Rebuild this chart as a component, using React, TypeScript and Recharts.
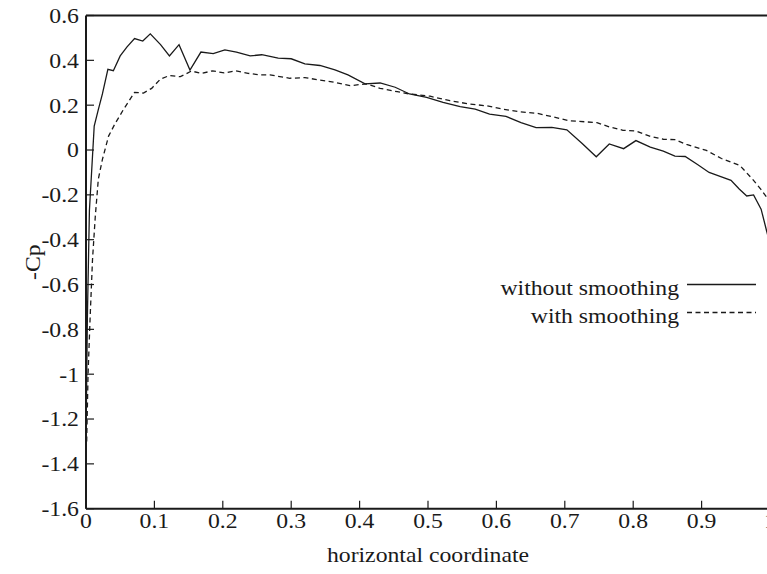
import React from 'react';
import { LineChart, Line, XAxis, YAxis, Legend } from 'recharts';

// values
const solidX = [0, 0.002, 0.005, 0.012, 0.018, 0.024, 0.032, 0.04, 0.05, 0.06, 0.071, 0.083, 0.094, 0.109, 0.122, 0.136, 0.152, 0.168, 0.186, 0.203, 0.22, 0.24, 0.257, 0.281, 0.3, 0.32, 0.342, 0.364, 0.383, 0.408, 0.43, 0.452, 0.473, 0.498, 0.522, 0.547, 0.569, 0.59, 0.614, 0.636, 0.658, 0.681, 0.703, 0.725, 0.746, 0.765, 0.786, 0.804, 0.825, 0.844, 0.861, 0.876, 0.894, 0.911, 0.924, 0.943, 0.955, 0.966, 0.976, 0.987, 0.995, 1];
const solidY = [-1.3, -0.75, -0.27, 0.107, 0.18, 0.25, 0.36, 0.354, 0.42, 0.46, 0.497, 0.486, 0.518, 0.47, 0.42, 0.47, 0.357, 0.437, 0.43, 0.447, 0.437, 0.42, 0.425, 0.41, 0.407, 0.384, 0.377, 0.357, 0.335, 0.295, 0.299, 0.28, 0.25, 0.235, 0.212, 0.194, 0.182, 0.16, 0.15, 0.122, 0.1, 0.101, 0.09, 0.03, -0.03, 0.027, 0.006, 0.042, 0.013, -0.005, -0.027, -0.029, -0.065, -0.1, -0.114, -0.135, -0.174, -0.205, -0.2, -0.264, -0.36, -0.42];

const dashedX = [0.001, 0.003, 0.006, 0.0095, 0.0135, 0.018, 0.024, 0.033, 0.042, 0.055, 0.071, 0.084, 0.096, 0.109, 0.122, 0.138, 0.154, 0.169, 0.185, 0.202, 0.219, 0.237, 0.254, 0.269, 0.298, 0.32, 0.342, 0.364, 0.386, 0.41, 0.43, 0.455, 0.473, 0.503, 0.532, 0.561, 0.586, 0.61, 0.635, 0.659, 0.683, 0.705, 0.747, 0.765, 0.785, 0.804, 0.824, 0.844, 0.861, 0.878, 0.907, 0.929, 0.946, 0.956, 0.975, 0.987, 0.995, 1];
const dashedY = [-1.3, -1.0, -0.75, -0.49, -0.3, -0.13, -0.042, 0.062, 0.115, 0.182, 0.257, 0.254, 0.275, 0.317, 0.332, 0.327, 0.352, 0.342, 0.353, 0.344, 0.353, 0.342, 0.335, 0.335, 0.32, 0.323, 0.312, 0.302, 0.287, 0.295, 0.275, 0.26, 0.25, 0.24, 0.22, 0.205, 0.197, 0.182, 0.17, 0.164, 0.148, 0.131, 0.122, 0.103, 0.088, 0.085, 0.062, 0.048, 0.046, 0.025, -0.002, -0.038, -0.057, -0.069, -0.132, -0.177, -0.21, -0.24];

const xTicks = [0, 0.1, 0.2, 0.3, 0.4, 0.5, 0.6, 0.7, 0.8, 0.9, 1];
const yTicks = [0.6, 0.4, 0.2, 0, -0.2, -0.4, -0.6, -0.8, -1, -1.2, -1.4, -1.6];

const seriesNames = ['without smoothing', 'with smoothing'];
const seriesDash = ['', '5 3.5'];

const solidData = solidX.map((x, i) => ({ x, y: solidY[i] }));
const dashedData = dashedX.map((x, i) => ({ x, y: dashedY[i] }));

const INK = '#1a1a1a';
const txt = { fontFamily: 'Liberation Serif, Tinos, Nimbus Roman, DejaVu Serif', fontSize: 21 };
const SX = 1.13; // the reference text is a bit wider than plain Times

const stretch = (x: number, y: number) => `translate(${x} ${y}) scale(${SX} 1) translate(${-x} ${-y})`;

const YTick = ({ x, y, payload }: any) => (
  <text x={x} y={y} dy="0.35em" textAnchor="end" fill={INK} style={txt} transform={stretch(x, y)}>
    {String(payload.value)}
  </text>
);

const XTick = ({ x, y, payload }: any) => (
  <text x={x} y={y} dy="0.71em" textAnchor="middle" fill={INK} style={txt} transform={stretch(x, y)}>
    {String(payload.value)}
  </text>
);

const XTitle = ({ viewBox }: any) => {
  const cx = viewBox.x + viewBox.width / 2;
  const cy = 562;
  return (
    <text x={cx} y={cy} textAnchor="middle" fill={INK} style={txt} transform={stretch(cx, cy)}>
      horizontal coordinate
    </text>
  );
};

const YTitle = ({ viewBox }: any) => {
  const cx = 33;
  const cy = viewBox.y + viewBox.height / 2;
  return (
    <text x={cx} y={cy} dy="0.35em" textAnchor="middle" fill={INK} style={txt}
      transform={`rotate(-90 ${cx} ${cy}) ${stretch(cx, cy)}`}>
      -Cp
    </text>
  );
};

// legend drawn from the series lists so order and dash match the reference
const LegendBox = () => (
  <svg width={290} height={70}>
    {seriesNames.map((name, i) => {
      const base = 30 + i * 28;
      return (
        <g key={name}>
          <text x={199} y={base} textAnchor="end" fill={INK} style={txt} transform={stretch(199, base)}>
            {name}
          </text>
          <line x1={207} x2={276} y1={base - 10.5} y2={base - 10.5} stroke={INK} strokeWidth={1.3}
            strokeDasharray={seriesDash[i] || undefined} />
        </g>
      );
    })}
  </svg>
);

const axisLine = { stroke: INK, strokeWidth: 2 };
const tickLine = { stroke: INK, strokeWidth: 1.2 };

export default function App() {
  return (
    <div style={{ position: 'absolute', left: 0, top: 0, width: 767, height: 574, overflow: 'hidden', background: '#fff' }}>
      <LineChart width={772} height={574} margin={{ top: 0, right: 0, bottom: 0, left: 0 }}>
        <XAxis xAxisId="bottom" dataKey="x" type="number" domain={[0, 1]} ticks={xTicks} interval={0}
          height={65.3} tickSize={-8} tickMargin={12} tick={<XTick />} axisLine={axisLine} tickLine={tickLine}
          allowDataOverflow label={<XTitle />} />
        <XAxis xAxisId="top" orientation="top" dataKey="x" type="number" domain={[0, 1]} ticks={xTicks} interval={0}
          height={15.5} tickSize={-8} tick={false} axisLine={axisLine} tickLine={tickLine} allowDataOverflow />
        <YAxis yAxisId="left" type="number" domain={[-1.6, 0.6]} ticks={yTicks} interval={0}
          width={86} tickSize={-8} tickMargin={15} tick={<YTick />} axisLine={axisLine} tickLine={tickLine}
          allowDataOverflow label={<YTitle />} />
        <YAxis yAxisId="right" orientation="right" type="number" domain={[-1.6, 0.6]} ticks={yTicks} interval={0}
          width={2} tickSize={-8} tick={false} axisLine={axisLine} tickLine={tickLine} allowDataOverflow />
        <Legend layout="horizontal" verticalAlign="middle" align="center" content={<LegendBox />}
          wrapperStyle={{ left: 480, top: 265, width: 290, height: 70 }} />
        <Line xAxisId="bottom" yAxisId="left" data={solidData} dataKey="y" name={seriesNames[0]} type="linear"
          stroke={INK} strokeWidth={1.3} dot={false} isAnimationActive={false} />
        <Line xAxisId="bottom" yAxisId="left" data={dashedData} dataKey="y" name={seriesNames[1]} type="linear"
          stroke={INK} strokeWidth={1.3} strokeDasharray={seriesDash[1]} dot={false} isAnimationActive={false} />
      </LineChart>
    </div>
  );
}
